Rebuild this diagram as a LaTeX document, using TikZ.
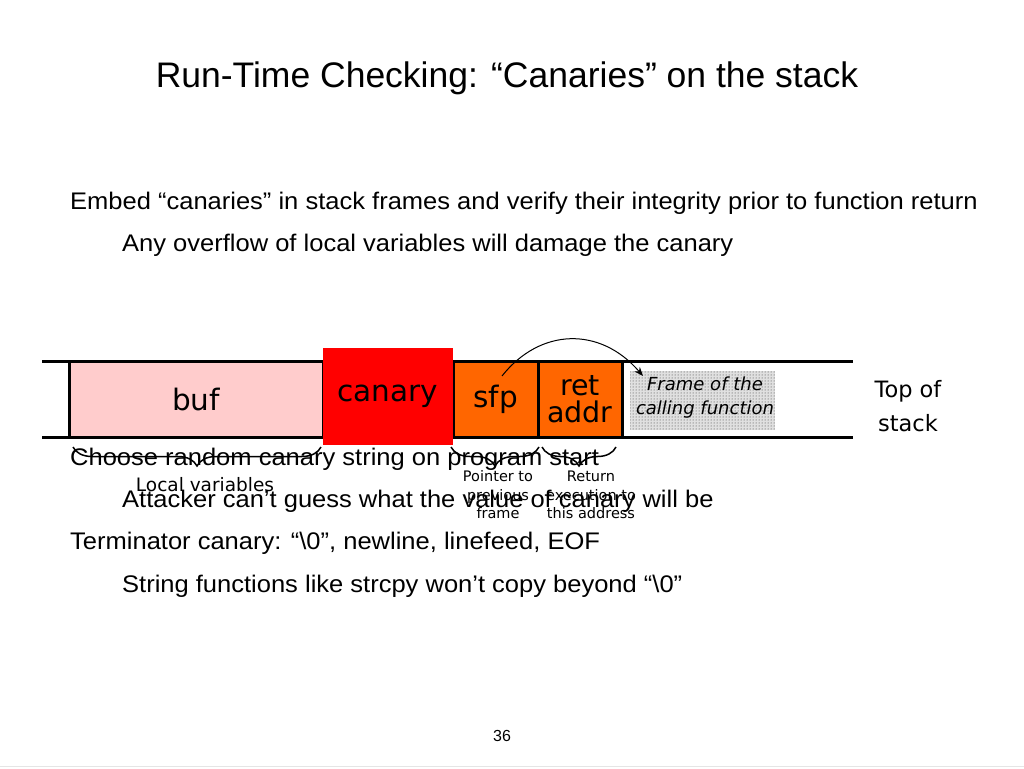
\documentclass[tikz,border=0pt]{standalone}
\usepackage{fontspec}
\setmainfont{Liberation Sans}
\newfontfamily\bodyf[FakeStretch=1.063]{Liberation Sans}
\newfontfamily\tfont{DejaVu Sans}
\usetikzlibrary{patterns,decorations.pathreplacing,arrows.meta}
\begin{document}
\begin{tikzpicture}[x=1pt,y=-1pt,
  txt/.style={anchor=base west,inner sep=0pt,font=\bodyf\fontsize{24}{28}\selectfont},
  cell/.style={draw=black,line width=3pt,inner sep=0pt,font=\tfont\fontsize{29.5}{29}\selectfont},
  lbl/.style={inner sep=0pt,align=center,font=\tfont\fontsize{14.5}{18.5}\selectfont},
  brc/.style={decorate,decoration={brace,mirror,amplitude=19pt},line width=1.5pt}]
\useasboundingbox (0,0) rectangle (1024,768);
\fill[white] (0,0) rectangle (1024,768);
\draw[gray!20,line width=1pt] (0,766) -- (1024,766);
% title
\node[inner sep=0pt,font=\fontsize{35.5}{40}\selectfont] (title) at (507,78) {Run-Time Checking: “Canaries” on the stack};
% body text
\node[txt] (l1) at (70,209) {Embed “canaries” in stack frames and verify their integrity prior to function return};
\node[txt] (l2) at (122,251) {Any overflow of local variables will damage the canary};
\node[txt] (l3) at (70,465) {Choose random canary string on program start};
\node[txt] (l4) at (122,507) {Attacker can’t guess what the value of canary will be};
\node[txt] (l5) at (70,549) {Terminator canary: “\textbackslash 0”, newline, linefeed, EOF};
\node[txt] (l6) at (122,592) {String functions like strcpy won’t copy beyond “\textbackslash 0”};
% stack lines
\coordinate (tl) at (42,361);
\coordinate (tr) at (853,361);
\coordinate (bl) at (42,437);
\coordinate (br) at (853,437);
\draw[line width=3pt] (tl) -- (tr);
\draw[line width=3pt] (bl) -- (br);
% cells
\node[cell,fill={rgb,255:red,255;green,204;blue,204},minimum width=254pt,minimum height=76pt] (buf) at (196,399) {buf};
\node[cell,fill={rgb,255:red,255;green,102;blue,0},minimum width=85pt,minimum height=76pt] (sfp) at (495.5,399) {sfp};
\node[cell,fill={rgb,255:red,255;green,102;blue,0},minimum width=84pt,minimum height=76pt,align=center,font=\tfont\fontsize{28.5}{27}\selectfont] (ret) at (580,399) {ret\\addr};
\node[inner sep=0pt,fill=red,minimum width=130pt,minimum height=97pt,font=\tfont\fontsize{29.5}{29}\selectfont] (can) at (388,396.5) {canary};
% frame of calling function
\fill[black!12] (630,371) rectangle (775,430);
\fill[pattern=dots,pattern color=black!80] (630,371) rectangle (775,430);
\node[inner sep=0pt,align=center,font=\tfont\itshape\fontsize{18}{24}\selectfont] (frame) at (705,398) {Frame of the\\calling function};
% top of stack
\node[inner sep=0pt,align=center,font=\tfont\fontsize{22.5}{34}\selectfont] (top) at (908,406) {Top of\\stack};
% arrow
\coordinate (as) at (502,376);
\coordinate (ae) at (643,376);
\draw[line width=1pt,-{Stealth[length=9pt,width=7pt]}] (as) .. controls (540,328) and (600,326) .. (ae);
% braces
\coordinate (b1a) at (73,447);
\coordinate (b1b) at (321,447);
\coordinate (b2a) at (451,447);
\coordinate (b2b) at (539,447);
\coordinate (b3a) at (542,447);
\coordinate (b3b) at (616,447);
\draw[brc] (b1a) -- (b1b);
\draw[brc] (b2a) -- (b2b);
\draw[brc] (b3a) -- (b3b);
\node[inner sep=0pt,font=\tfont\fontsize{18.5}{18}\selectfont] (loc) at (205,485) {Local variables};
\node[lbl] (ptr) at (498,495) {Pointer to\\previous\\frame};
\node[lbl] (rx) at (591,495) {Return\\execution to\\this address};
% page number
\node[inner sep=0pt,font=\fontsize{16}{16}\selectfont] (pg) at (502,736) {36};
\end{tikzpicture}
\end{document}
